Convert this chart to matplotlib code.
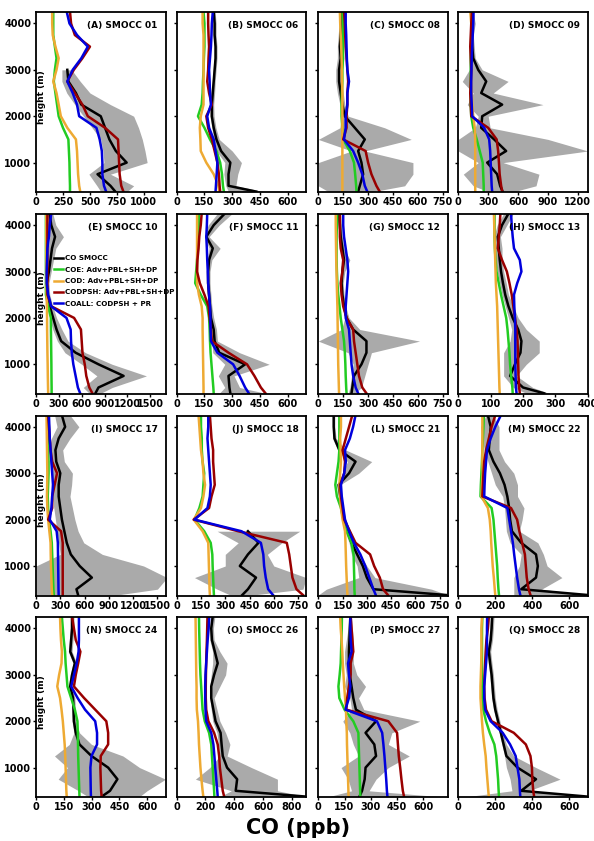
import numpy as np
import matplotlib
matplotlib.use("Agg")
import matplotlib.pyplot as plt

nan = np.nan

# common height grid (m)
heights = [375, 500, 750, 1000, 1250, 1500, 1750, 2000, 2250, 2500,
           2750, 3000, 3250, 3500, 3750, 4000, 4250]

panels = ["A", "B", "C", "D", "E", "F", "G", "H",
          "I", "J", "L", "M", "N", "O", "P", "Q"]
flights = ["01", "06", "08", "09", "10", "11", "12", "13",
           "17", "18", "21", "22", "24", "26", "27", "28"]

xmax = {"A": 1200, "B": 700, "C": 780, "D": 1300, "E": 1700, "F": 700,
        "G": 780, "H": 400, "I": 1600, "J": 800, "L": 800, "M": 700,
        "N": 700, "O": 900, "P": 740, "Q": 700}
xticks = {"A": [0, 250, 500, 750, 1000], "B": [0, 150, 300, 450, 600],
          "C": [0, 150, 300, 450, 600, 750], "D": [0, 300, 600, 900, 1200],
          "E": [0, 300, 600, 900, 1200, 1500], "F": [0, 150, 300, 450, 600],
          "G": [0, 150, 300, 450, 600, 750], "H": [0, 100, 200, 300, 400],
          "I": [0, 300, 600, 900, 1200, 1500], "J": [0, 150, 300, 450, 600, 750],
          "L": [0, 150, 300, 450, 600, 750], "M": [0, 200, 400, 600],
          "N": [0, 150, 300, 450, 600], "O": [0, 200, 400, 600, 800],
          "P": [0, 150, 300, 450, 600], "Q": [0, 200, 400, 600]}

# CO SMOCC observations (ppb)
obs = {
    "A": [735, 690, 570, 840, 740, 680, 640, 600, 420, 370, 300, 290, nan, nan, nan, nan, nan],
    "B": [430, 280, 280, 290, 240, 215, 200, 190, 190, 195, 200, 205, 210, 210, 205, 205, 200],
    "C": [240, 250, 270, 260, 240, 280, 220, 160, 145, 135, 125, 125, 135, 130, 135, 140, 140],
    "D": [445, 420, 390, 290, 480, 360, 230, 240, 440, 230, 280, 200, 150, 140, 135, 140, 135],
    "E": [780, 820, 1150, 820, 520, 330, 270, 225, 180, 150, 140, 170, 190, 210, 250, 200, 180],
    "F": [290, 285, 280, 370, 230, 205, 200, 185, 180, 175, 170, 170, 175, 195, 160, 200, 260],
    "G": [200, 205, 215, 260, 290, 290, 210, 170, 155, 145, 140, 145, 155, 145, 135, 130, 125],
    "H": [265, 200, 160, 175, 192, 195, 185, 168, 155, 145, 138, 132, 128, 125, 122, 135, 155],
    "I": [520, 500, 690, 540, 430, 380, 350, 320, 300, 280, 280, 300, 250, 240, 280, 360, 320],
    "J": [405, 440, 490, 390, 440, 505, 440, nan, nan, nan, nan, nan, nan, nan, nan, nan, nan],
    "L": [790, 340, 300, 275, 240, 205, 180, 160, 145, 135, 125, 190, 230, 130, 100, 95, 95],
    "M": [700, 340, 420, 430, 420, 340, 290, 280, 275, 265, 250, 225, 190, 165, 170, 175, 160],
    "N": [355, 400, 440, 390, 300, 235, 215, 205, 203, 200, 185, 195, 210, 185, 190, 195, 195],
    "O": [900, 410, 420, 350, 320, 312, 305, 270, 255, 240, 240, 260, 285, 265, 245, 240, 250],
    "P": [235, 250, 265, 270, 330, 320, 270, 330, 215, 200, 190, 180, 175, 175, 178, 180, 183],
    "Q": [700, 340, 420, 320, 260, 245, 230, 215, 200, 190, 185, 180, 172, 165, 175, 180, 183],
}
# observed spread (gray band), lower and upper edge
obs_lo = {
    "A": [600, 565, 490, 630, 620, 600, 520, 440, 360, 285, 240, 240, nan, nan, nan, nan, nan],
    "B": [280, 265, 255, 260, 215, 200, 190, 180, 180, 185, 192, 197, 202, 202, 197, 197, 192],
    "C": [60, 0, 0, 0, 200, 0, 130, 140, 130, 115, 105, 105, 115, 115, 120, 125, 125],
    "D": [300, 150, 50, 200, 0, 0, 170, 200, 90, 150, 40, 110, 120, 120, 120, 120, 120],
    "E": [700, 620, 800, 600, 380, 280, 220, 180, 150, 120, 120, 140, 150, 160, 180, 150, 150],
    "F": [230, 260, 225, 260, 195, 190, 185, 175, 170, 165, 160, 160, 165, 175, 150, 170, 220],
    "G": [180, 190, 200, 210, 180, 0, 140, 160, 145, 135, 130, 135, 140, 135, 125, 120, 115],
    "H": [210, 170, 140, 140, 140, 160, 165, 155, 145, 135, 128, 120, 115, 115, 110, 120, 140],
    "I": [0, 0, 0, 0, 300, 280, 260, 240, 220, 200, 190, 200, 170, 160, 190, 260, 230],
    "J": [330, 250, 110, 300, 300, 380, 250, nan, nan, nan, nan, nan, nan, nan, nan, nan, nan],
    "L": [0, 50, 250, 240, 205, 190, 165, 150, 138, 128, 118, 150, 180, 120, 88, 88, 88],
    "M": [300, 300, 300, 330, 340, 280, 260, 255, 250, 240, 200, 180, 160, 140, 130, 120, 150],
    "N": [280, 230, 120, 170, 100, 180, 205, 195, 193, 190, 175, 185, 200, 175, 180, 185, 185],
    "O": [300, 380, 130, 230, 300, 290, 280, 250, 240, 230, 230, 240, 250, 250, 230, 230, 235],
    "P": [60, 190, 170, 130, 230, 200, 180, 140, 190, 180, 150, 160, 150, 150, 160, 170, 175],
    "Q": [50, 290, 280, 260, 250, 235, 222, 205, 190, 180, 175, 170, 162, 155, 165, 170, 173],
}
obs_hi = {
    "A": [845, 905, 690, 1030, 1010, 985, 950, 905, 690, 500, 410, 330, nan, nan, nan, nan, nan],
    "B": [470, 320, 330, 350, 300, 230, 212, 202, 200, 205, 208, 213, 218, 218, 213, 213, 208],
    "C": [330, 520, 570, 570, 280, 560, 400, 180, 160, 150, 140, 145, 155, 150, 150, 155, 155],
    "D": [560, 780, 810, 450, 1300, 900, 320, 300, 850, 350, 500, 240, 170, 160, 150, 170, 150],
    "E": [850, 1000, 1450, 1000, 650, 420, 340, 270, 220, 180, 170, 200, 230, 260, 360, 260, 220],
    "F": [480, 340, 310, 500, 340, 220, 215, 200, 190, 185, 180, 180, 190, 235, 175, 230, 300],
    "G": [220, 260, 280, 300, 320, 610, 250, 185, 165, 155, 150, 160, 190, 155, 145, 140, 135],
    "H": [280, 230, 180, 210, 250, 250, 210, 185, 170, 155, 148, 140, 135, 135, 130, 150, 170],
    "I": [1000, 1500, 1620, 1330, 820, 590, 520, 480, 450, 420, 440, 450, 350, 330, 420, 530, 420],
    "J": [470, 780, 800, 600, 560, 650, 760, nan, nan, nan, nan, nan, nan, nan, nan, nan, nan],
    "L": [800, 700, 350, 300, 260, 230, 200, 170, 155, 145, 135, 250, 330, 170, 110, 102, 102],
    "M": [700, 450, 560, 480, 460, 430, 330, 345, 355, 320, 320, 300, 250, 220, 220, 220, 190],
    "N": [560, 600, 700, 560, 470, 300, 235, 215, 213, 210, 195, 205, 220, 195, 200, 205, 205],
    "O": [900, 700, 700, 520, 350, 370, 340, 300, 280, 260, 300, 340, 350, 300, 260, 255, 265],
    "P": [690, 290, 330, 400, 520, 400, 420, 580, 260, 230, 270, 220, 200, 200, 200, 195, 190],
    "Q": [700, 380, 550, 420, 300, 260, 240, 225, 210, 200, 195, 190, 182, 175, 185, 190, 193],
}
# model runs
coe = {
    "A": [315, 315, 312, 310, 305, 300, 250, 210, 195, 180, 165, 175, 190, 175, 160, 160, 160],
    "B": [255, 250, 245, 235, 215, 180, 150, 115, 135, 140, 142, 145, 147, 150, 150, 150, 145],
    "C": [230, 228, 222, 215, 190, 150, 145, 140, 140, 142, 145, 145, 148, 150, 150, 148, 145],
    "D": [255, 255, 250, 245, 215, 185, 150, 130, 125, 125, 125, 125, 125, 128, 130, 130, 130],
    "E": [205, 205, 203, 202, 200, 198, 196, 195, 160, 130, 130, 130, 130, 130, 130, 130, 130],
    "F": [200, 198, 193, 188, 183, 180, 178, 175, 165, 130, 100, 105, 110, 115, 118, 120, 120],
    "G": [170, 168, 165, 163, 160, 155, 145, 135, 128, 120, 115, 112, 110, 110, 110, 112, 115],
    "H": [168, 167, 163, 160, 158, 155, 152, 148, 140, 132, 125, 118, 115, 113, 112, 112, 112],
    "I": [220, 215, 210, 205, 200, 195, 180, 160, 150, 145, 150, 155, 155, 150, 145, 140, 140],
    "J": [230, 228, 225, 222, 220, 210, 170, 110, 140, 160, 165, 170, 160, 155, 155, 150, 150],
    "L": [225, 223, 222, 220, 218, 205, 175, 155, 140, 115, 105, 115, 125, 130, 130, 130, 130],
    "M": [220, 217, 213, 210, 205, 200, 195, 190, 180, 120, 122, 125, 128, 130, 133, 136, 138],
    "N": [235, 234, 232, 230, 228, 227, 226, 224, 210, 190, 170, 165, 160, 157, 150, 145, 140],
    "O": [262, 260, 255, 250, 245, 240, 225, 195, 180, 175, 170, 165, 162, 160, 158, 156, 155],
    "P": [240, 239, 237, 235, 233, 231, 229, 200, 150, 120, 115, 122, 128, 130, 132, 134, 135],
    "Q": [220, 218, 215, 210, 205, 195, 170, 150, 135, 128, 128, 128, 128, 128, 128, 128, 130],
}
cod = {
    "A": [410, 400, 390, 385, 380, 370, 290, 230, 210, 190, 160, 190, 210, 180, 155, 150, 150],
    "B": [230, 225, 200, 160, 130, 128, 125, 130, 145, 145, 145, 145, 145, 145, 145, 140, 140],
    "C": [145, 145, 145, 145, 145, 145, 145, 145, 145, 145, 143, 142, 140, 138, 135, 132, 130],
    "D": [170, 170, 170, 170, 170, 170, 165, 150, 140, 135, 130, 130, 132, 135, 132, 130, 120],
    "E": [160, 158, 155, 153, 150, 148, 146, 145, 143, 140, 138, 137, 136, 136, 135, 135, 135],
    "F": [145, 145, 144, 143, 142, 141, 140, 140, 135, 120, 110, 110, 110, 110, 110, 110, 110],
    "G": [125, 124, 122, 120, 119, 118, 117, 116, 115, 113, 111, 110, 108, 107, 106, 105, 105],
    "H": [128, 127, 126, 125, 124, 123, 122, 121, 120, 118, 116, 115, 114, 113, 112, 111, 110],
    "I": [200, 195, 190, 185, 182, 180, 165, 150, 140, 135, 138, 140, 138, 136, 134, 132, 130],
    "J": [205, 203, 201, 199, 197, 195, 160, 105, 150, 165, 175, 165, 160, 150, 145, 140, 135],
    "L": [180, 178, 175, 172, 170, 168, 165, 150, 140, 135, 130, 135, 140, 138, 135, 140, 140],
    "M": [200, 197, 192, 186, 182, 178, 175, 170, 160, 125, 128, 132, 130, 130, 130, 130, 130],
    "N": [166, 164, 162, 160, 158, 155, 150, 145, 138, 130, 115, 125, 138, 140, 135, 132, 130],
    "O": [185, 180, 172, 165, 160, 155, 152, 148, 140, 138, 138, 136, 135, 134, 133, 132, 131],
    "P": [173, 172, 170, 168, 166, 164, 163, 160, 158, 153, 148, 144, 140, 137, 133, 128, 125],
    "Q": [165, 162, 157, 152, 148, 140, 133, 128, 124, 120, 120, 122, 124, 125, 125, 125, 128],
}
codpsh = {
    "A": [810, 790, 775, 770, 765, 760, 640, 480, 430, 360, 290, 350, 430, 500, 360, 325, 315],
    "B": [235, 232, 228, 220, 205, 190, 170, 160, 190, 175, 165, 170, 172, 175, 172, 170, 170],
    "C": [370, 350, 320, 300, 285, 150, 170, 170, 175, 175, 180, 175, 170, 165, 162, 160, 155],
    "D": [442, 430, 415, 408, 400, 385, 300, 130, 125, 120, 125, 130, 125, 120, 125, 130, 136],
    "E": [740, 700, 660, 640, 610, 600, 590, 500, 200, 150, 150, 150, 150, 150, 150, 150, 150],
    "F": [480, 455, 420, 380, 280, 190, 185, 178, 172, 150, 125, 110, 112, 118, 122, 130, 135],
    "G": [290, 265, 245, 235, 225, 215, 210, 170, 150, 140, 135, 145, 150, 135, 130, 130, 130],
    "H": [190, 188, 186, 185, 184, 183, 180, 175, 170, 165, 158, 150, 135, 122, 125, 128, 130],
    "I": [330, 330, 330, 330, 330, 330, 310, 150, 200, 200, 230, 260, 200, 180, 170, 160, 150],
    "J": [780, 740, 715, 705, 695, 680, 380, 105, 200, 215, 235, 230, 225, 225, 215, 210, 205],
    "L": [430, 400, 380, 345, 320, 230, 195, 160, 150, 140, 135, 160, 165, 150, 170, 190, 210],
    "M": [390, 380, 370, 365, 360, 345, 330, 318, 285, 130, 133, 136, 140, 150, 165, 180, 200],
    "N": [355, 352, 350, 348, 350, 390, 390, 380, 320, 260, 205, 215, 228, 240, 215, 205, 195],
    "O": [330, 320, 310, 300, 295, 285, 260, 220, 205, 202, 202, 203, 205, 207, 210, 212, 214],
    "P": [490, 483, 475, 468, 460, 455, 450, 400, 160, 165, 175, 185, 185, 200, 195, 190, 185],
    "Q": [410, 405, 400, 398, 390, 365, 300, 180, 150, 142, 140, 142, 145, 148, 152, 160, 165],
}
coall = {
    "A": [650, 630, 615, 615, 610, 590, 560, 400, 380, 340, 290, 340, 420, 480, 380, 310, 285],
    "B": [210, 212, 216, 220, 210, 200, 175, 165, 185, 180, 178, 175, 180, 185, 188, 190, 195],
    "C": [295, 280, 265, 240, 210, 155, 165, 165, 175, 175, 185, 175, 172, 170, 168, 165, 165],
    "D": [340, 335, 330, 325, 320, 310, 260, 140, 135, 130, 130, 132, 135, 140, 145, 150, 153],
    "E": [580, 550, 520, 490, 470, 460, 455, 400, 200, 160, 140, 140, 145, 150, 170, 180, 200],
    "F": [390, 370, 340, 305, 220, 185, 183, 182, 180, 175, 170, 168, 165, 163, 160, 163, 165],
    "G": [240, 225, 210, 200, 195, 190, 185, 165, 165, 170, 175, 180, 175, 165, 155, 150, 150],
    "H": [180, 178, 177, 176, 176, 176, 176, 175, 173, 172, 182, 195, 190, 172, 168, 165, 163],
    "I": [280, 278, 276, 274, 272, 270, 255, 170, 190, 200, 210, 200, 190, 180, 170, 165, 160],
    "J": [595, 565, 550, 540, 535, 520, 400, 110, 190, 205, 210, 205, 200, 195, 190, 195, 195],
    "L": [355, 340, 315, 290, 260, 220, 190, 165, 155, 145, 140, 160, 170, 165, 195, 215, 230],
    "M": [335, 328, 318, 310, 302, 295, 285, 275, 265, 140, 142, 145, 150, 155, 175, 200, 230],
    "N": [297, 296, 295, 294, 300, 330, 330, 320, 265, 225, 190, 205, 220, 230, 232, 232, 232],
    "O": [285, 282, 275, 268, 262, 255, 240, 205, 200, 198, 198, 200, 205, 210, 215, 222, 226],
    "P": [395, 392, 388, 383, 378, 372, 365, 335, 155, 175, 183, 175, 170, 190, 185, 183, 183],
    "Q": [335, 333, 330, 320, 310, 280, 240, 175, 145, 140, 140, 145, 150, 155, 155, 155, 156],
}

labels = ["CO SMOCC", "COE: Adv+PBL+SH+DP", "COD: Adv+PBL+SH+DP",
          "CODPSH: Adv+PBL+SH+DP", "COALL: CODPSH + PR"]
colors = ["black", "#22cc22", "#eeaa33", "#990000", "#0000dd"]

W, Hpx = 594.0, 841.0
col_left = [36, 176.7, 318.3, 458.3]
row_top = [12.3, 214, 415.7, 617.3]
ax_w, ax_h = 129.5, 180.0

plt.rcParams["font.family"] = "DejaVu Sans"
plt.rcParams["font.weight"] = "bold"

fig = plt.figure(figsize=(W / 100, Hpx / 100), dpi=100)
h = np.array(heights, dtype=float)

for i, p in enumerate(panels):
    r, c = divmod(i, 4)
    ax = fig.add_axes([col_left[c] / W, 1 - (row_top[r] + ax_h) / Hpx,
                       ax_w / W, ax_h / Hpx])
    lo = np.array(obs_lo[p], dtype=float)
    hi = np.array(obs_hi[p], dtype=float)
    ax.fill_betweenx(h, lo, hi, color="#aaaaaa", lw=0, zorder=1)
    series = [obs[p], coe[p], cod[p], codpsh[p], coall[p]]
    lines = []
    for s, col, lab in zip(series, colors, labels):
        ln, = ax.plot(s, h, color=col, lw=1.8, label=lab, zorder=2)
        lines.append(ln)
    ax.set_xlim(0, xmax[p])
    ax.set_ylim(360, 4240)
    ax.set_xticks(xticks[p])
    ax.set_yticks([1000, 2000, 3000, 4000])
    ax.tick_params(labelsize=7, length=2, width=1, pad=1.5)
    for lab in ax.get_xticklabels() + ax.get_yticklabels():
        lab.set_fontweight("bold")
    if c != 0:
        ax.set_yticklabels([])
    else:
        ax.text(0.045, 0.53, "height (m)", transform=ax.transAxes,
                rotation=90, ha="center", va="center", fontsize=6.5,
                fontweight="bold")
    for sp in ax.spines.values():
        sp.set_linewidth(1.3)
    ax.text(0.94, 0.925, "(%s) SMOCC %s" % (p, flights[i]),
            transform=ax.transAxes, ha="right", va="center",
            fontsize=6.5, fontweight="bold")
    if p == "E":
        ax.legend(handles=lines, loc="upper left",
                  bbox_to_anchor=(0.14, 0.77), frameon=False,
                  fontsize=5.1, handlelength=1.25, handletextpad=0.25,
                  labelspacing=0.75, borderpad=0, borderaxespad=0)

fig.text(298 / W, 1 - 828 / Hpx, "CO (ppb)", ha="center", va="center",
         fontsize=15, fontweight="bold")

fig.savefig("out.png", dpi=100)
